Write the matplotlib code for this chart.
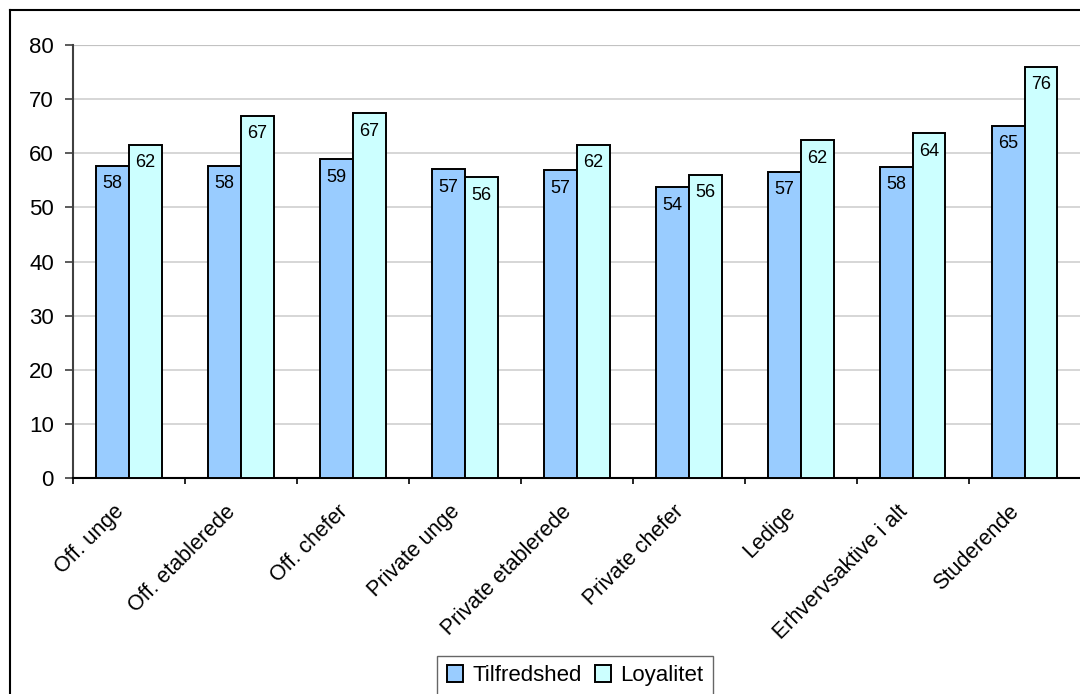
import numpy as np
import matplotlib
matplotlib.use('Agg')
import matplotlib.pyplot as plt
from matplotlib.lines import Line2D

plt.rcParams['font.family'] = ['Liberation Sans', 'DejaVu Sans']

categories = ['Off. unge', 'Off. etablerede', 'Off. chefer', 'Private unge',
              'Private etablerede', 'Private chefer', 'Ledige',
              'Erhvervsaktive i alt', 'Studerende']
tilfredshed = [57.7, 57.7, 58.9, 57.1, 56.9, 53.7, 56.6, 57.5, 65.1]
loyalitet = [61.6, 66.9, 67.4, 55.6, 61.6, 56.0, 62.4, 63.7, 76.0]
series_names = ['Tilfredshed', 'Loyalitet']

W, H = 1080, 694
fig = plt.figure(figsize=(W / 100, H / 100), dpi=100)
ax = fig.add_axes([73 / W, (H - 478) / H, (1080.5 - 73) / W, (478 - 45) / H])

x = np.arange(len(categories))
bw = 0.294
b1 = ax.bar(x - bw / 2, tilfredshed, bw, color='#99CCFF', edgecolor='black',
            linewidth=1.4, label=series_names[0], zorder=3)
b2 = ax.bar(x + bw / 2, loyalitet, bw, color='#CCFFFF', edgecolor='black',
            linewidth=1.4, label=series_names[1], zorder=3)

for bars, vals in ((b1, tilfredshed), (b2, loyalitet)):
    for rect, v in zip(bars, vals):
        ax.annotate(f'{v:.0f}', (rect.get_x() + rect.get_width() / 2, v),
                    xytext=(0, -13), textcoords='offset points',
                    ha='center', va='center', fontsize=13, zorder=4)

ax.set_xlim(-0.5, len(categories) - 0.5)
ax.set_ylim(0, 80)
ax.set_yticks(range(0, 81, 10))
ax.tick_params(axis='y', labelsize=16, length=5.8, width=1.2, color='#404040', pad=8)
ax.yaxis.grid(True, color='#d0d0d0', linewidth=1.2, zorder=0)
ax.axhline(80, color='#808080', linewidth=1.5, zorder=1)

ax.set_xticks(np.arange(-0.5, len(categories), 1.0))
ax.set_xticklabels([])
ax.tick_params(axis='x', length=4.3, width=1.2, color='black')
for xi, lab in zip(x, categories):
    ax.annotate(lab, (xi, 0), xytext=(-6, -22), textcoords='offset points',
                rotation=45, ha='right', va='center', rotation_mode='anchor',
                fontsize=15.5, annotation_clip=False)

for s in ('top', 'right'):
    ax.spines[s].set_visible(False)
ax.spines['left'].set_color('#404040')
ax.spines['left'].set_linewidth(1.5)
ax.spines['bottom'].set_color('black')
ax.spines['bottom'].set_linewidth(1.5)

# outer chart border (left and top visible)
fig.add_artist(Line2D([10 / W, 10 / W], [-0.1, 1 - 10 / H], color='black', lw=1.5))
fig.add_artist(Line2D([10 / W, 1.1], [1 - 10 / H, 1 - 10 / H], color='black', lw=1.5))

leg = fig.legend(handles=[b1, b2], loc='upper center',
                 bbox_to_anchor=(575 / W, 1 - 656 / H), ncol=2, fontsize=16,
                 frameon=True, fancybox=False, edgecolor='#404040',
                 handlelength=0.75, handleheight=0.75, handletextpad=0.4,
                 columnspacing=0.6, borderpad=0.42, borderaxespad=0)
leg.get_frame().set_linewidth(1.0)

fig.savefig('out.png', dpi=100)
